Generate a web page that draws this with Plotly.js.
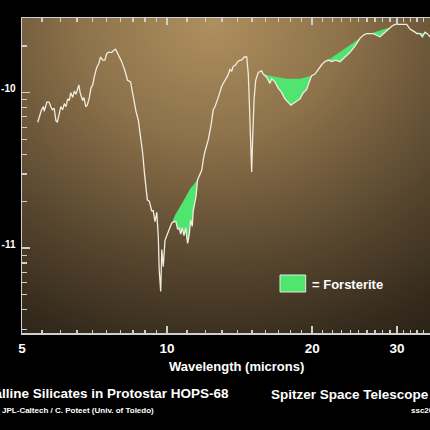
<!DOCTYPE html>
<html>
<head>
<meta charset="utf-8">
<script src="https://cdn.plot.ly/plotly-3.0.1.min.js"></script>
<style>html,body{margin:0;padding:0;background:#000;}#chart{width:430px;height:430px;}</style>
</head>
<body>
<div id="chart"></div>
<script>
// Spectrum of HOPS-68 (wavelength in microns, log10 flux)
const wavelength = [5.39,5.49,5.54,5.56,5.63,5.69,5.74,5.78,5.83,5.88,5.92,5.98,6.02,6.07,6.12,6.17,6.22,6.27,6.31,6.37,6.42,6.47,6.52,6.56,6.60,6.64,6.68,6.72,6.78,6.83,6.90,6.95,7.01,7.06,7.14,7.22,7.28,7.35,7.43,7.49,7.55,7.68,7.73,7.82,7.88,7.96,8.05,8.18,8.28,8.40,8.51,8.62,8.72,8.82,8.90,8.97,9.04,9.10,9.19,9.29,9.36,9.44,9.52,9.56,9.59,9.63,9.70,9.75,9.82,9.90,9.98,10.11,10.22,10.33,10.43,10.52,10.60,10.67,10.75,10.84,10.93,11.03,11.12,11.19,11.28,11.33,11.43,11.48,11.57,11.70,11.80,11.89,11.98,12.18,12.32,12.47,12.57,12.77,12.98,13.19,13.36,13.51,13.62,13.72,13.88,14.01,14.17,14.28,14.46,14.63,14.74,14.81,14.91,14.98,15.05,15.15,15.27,15.46,15.71,15.83,16.09,16.35,16.48,16.74,17.01,17.29,17.56,17.84,18.07,18.27,18.51,18.87,19.17,19.48,19.73,19.95,20.27,20.59,20.93,21.26,21.60,21.96,22.38,22.84,23.21,23.59,23.96,24.54,25.13,25.53,25.95,26.36,26.78,27.22,27.66,28.10,28.56,28.91,29.29,29.71,30.04,30.68,31.42,31.92,32.42,32.69,32.96,33.48,33.85,34.29,34.67,35.12,35.79];
const logFlux = [-10.19,-10.11,-10.09,-10.12,-10.06,-10.06,-10.09,-10.11,-10.10,-10.18,
-10.19,-10.13,-10.09,-10.11,-10.07,-10.09,-10.04,-10.05,-10.00,-10.03,
-9.99,-10.01,-9.98,-9.95,-10.00,-10.03,-10.05,-10.03,-10.09,-10.08,
-10.03,-9.97,-9.95,-9.90,-9.84,-9.81,-9.77,-9.79,-9.79,-9.75,
-9.74,-9.74,-9.73,-9.72,-9.74,-9.77,-9.80,-9.86,-9.92,-9.93,
-10.03,-10.12,-10.18,-10.28,-10.39,-10.51,-10.61,-10.69,-10.70,-10.76,
-10.76,-10.83,-10.77,-10.86,-10.93,-11.14,-11.28,-11.01,-11.12,-10.95,
-10.92,-10.88,-10.84,-10.83,-10.83,-10.88,-10.87,-10.91,-10.87,-10.92,
-10.87,-10.97,-10.91,-10.82,-10.86,-10.76,-10.69,-10.67,-10.56,-10.53,
-10.50,-10.43,-10.38,-10.30,-10.22,-10.11,-10.09,-10.03,-9.96,-9.92,
-9.89,-9.85,-9.86,-9.83,-9.82,-9.80,-9.79,-9.79,-9.77,-9.77,
-9.88,-10.05,-10.30,-10.51,-10.30,-10.05,-9.92,-9.87,-9.86,-9.88,
-9.90,-9.94,-9.91,-9.93,-9.97,-10.00,-10.04,-10.06,-10.08,-10.07,
-10.06,-10.04,-10.00,-9.98,-9.93,-9.89,-9.88,-9.85,-9.82,-9.80,
-9.79,-9.80,-9.79,-9.80,-9.78,-9.76,-9.74,-9.70,-9.65,-9.63,
-9.62,-9.62,-9.62,-9.63,-9.64,-9.62,-9.60,-9.58,-9.57,-9.56,
-9.56,-9.56,-9.56,-9.59,-9.60,-9.61,-9.62,-9.62,-9.64,-9.61,
-9.62,-9.64,-9.65];

// Continuum above each forsterite feature
const cont1X = [9.98, 10.38, 10.89, 11.16, 11.57];
const cont1Y = [-10.92, -10.79, -10.68, -10.62, -10.56];
const cont2X = [15.83, 16.61, 17.71, 18.87, 19.95];
const cont2Y = [-9.88, -9.895, -9.91, -9.91, -9.89];
const cont3X = [21.60, 25.13];
const cont3Y = [-9.79, -9.65];
const cont4X = [26.36, 28.91];
const cont4Y = [-9.62, -9.58];
const cont5X = [32.69, 34.67];
const cont5Y = [-9.61, -9.62];

// Tick labels
const xMajorTicks = [5, 10, 20, 30];
const xMajorText = ['5', '10', '20', '30'];
const xMinorTicks = [5.5,6,6.5,7,7.5,8,8.5,9,9.5,11,12,13,14,15,16,17,18,19,21,22,23,24,25,26,27,28,29,31,32,33,34,35];
const yMajorTicks = [-11, -10];
const yMajorText = ['-11', '-10'];

const GREEN = '#4fe56f';
const LINE = '#f1ece0';
const AX = '#cfcfcf';

const yMinorTicks = [];
[-12, -11, -10].forEach(n => { for (let k = 2; k <= 9; k++) yMinorTicks.push(n + Math.log10(k)); });

const conts = [[cont1X, cont1Y], [cont2X, cont2Y], [cont3X, cont3Y], [cont4X, cont4Y], [cont5X, cont5Y]];
const traces = [];
conts.forEach(([cx, cy]) => {
  const a = cx[0], b = cx[cx.length - 1];
  const sx = [], sy = [];
  wavelength.forEach((w, i) => { if (w >= a - 1e-9 && w <= b + 1e-9) { sx.push(w); sy.push(logFlux[i]); } });
  traces.push({x: cx, y: cy, mode: 'lines', line: {width: 0, color: GREEN}, hoverinfo: 'skip', showlegend: false});
  traces.push({x: sx, y: sy, mode: 'lines', line: {width: 0, color: GREEN}, fill: 'tonexty', fillcolor: GREEN, hoverinfo: 'skip', showlegend: false});
});
traces.push({x: wavelength, y: logFlux, mode: 'lines', line: {color: LINE, width: 1.3}, showlegend: false});

// Background glow of the plot area
const W = 408, H = 315;
const cv = document.createElement('canvas');
cv.width = W; cv.height = H;
const ctx = cv.getContext('2d');
ctx.fillStyle = '#261f15';
ctx.fillRect(0, 0, W, H);
ctx.save();
ctx.translate(190, 5);
ctx.scale(1.15, 1);
const g = ctx.createRadialGradient(0, 0, 0, 0, 0, 390);
g.addColorStop(0, 'rgb(174,143,94)');
g.addColorStop(0.3, 'rgb(140,113,74)');
g.addColorStop(0.6, 'rgb(90,72,48)');
g.addColorStop(0.85, 'rgb(52,42,28)');
g.addColorStop(1, 'rgb(36,29,20)');
ctx.fillStyle = g;
ctx.fillRect(-400, -100, 900, 600);
ctx.restore();
const bg = cv.toDataURL('image/png');

const FONT = 'Liberation Sans, Arial, sans-serif';
const px = v => (v - 22) / 408;
const py = v => (333 - v) / 315;

const layout = {
  width: 430, height: 430,
  margin: {l: 22, r: 0, t: 18, b: 97, pad: 0},
  paper_bgcolor: '#000000',
  plot_bgcolor: 'rgba(0,0,0,0)',
  showlegend: false,
  font: {family: FONT, color: '#ffffff'},
  images: [{source: bg, xref: 'paper', yref: 'paper', x: 0, y: 1, sizex: 1, sizey: 1,
            sizing: 'stretch', layer: 'below', xanchor: 'left', yanchor: 'top'}],
  xaxis: {
    type: 'log', range: [Math.log10(5), Math.log10(35.12)],
    tickmode: 'array', tickvals: xMajorTicks, ticktext: xMajorText,
    ticks: 'inside', ticklen: 7, tickwidth: 1.5, tickcolor: AX,
    showline: true, linecolor: AX, linewidth: 1.5, mirror: 'ticks',
    showgrid: false, zeroline: false,
    tickfont: {family: FONT, size: 13.5, color: '#ffffff', weight: 'bold'},
    ticklabelstandoff: 2,
    minor: {tickmode: 'array', tickvals: xMinorTicks, ticks: 'inside', ticklen: 3.5, tickwidth: 1.2, tickcolor: AX, showgrid: false}
  },
  yaxis: {
    range: [-11.547, -9.519],
    tickmode: 'array', tickvals: yMajorTicks, ticktext: yMajorText,
    ticks: 'inside', ticklen: 8, tickwidth: 1.5, tickcolor: AX,
    showline: true, linecolor: AX, linewidth: 1.5, mirror: false,
    showgrid: false, zeroline: false,
    tickfont: {family: FONT, size: 10, color: '#ffffff', weight: 'bold'},
    ticklabelstandoff: 3, ticklabelshift: -4,
    minor: {tickmode: 'array', tickvals: yMinorTicks, ticks: 'inside', ticklen: 4.5, tickwidth: 1.2, tickcolor: AX, showgrid: false}
  },
  shapes: [
    {type: 'rect', xref: 'paper', yref: 'paper', x0: px(280), x1: px(305.7), y0: py(292), y1: py(275),
     fillcolor: GREEN, line: {color: '#d9eed9', width: 1}}
  ],
  annotations: [
    {text: '= Forsterite', xref: 'paper', yref: 'paper', x: px(310), y: py(284), xanchor: 'left', yanchor: 'middle', showarrow: false,
     font: {family: FONT, size: 13, color: '#ffffff', weight: 'bold'}},
    {text: 'Wavelength (microns)', xref: 'paper', yref: 'paper', x: px(236), y: py(366.5), xanchor: 'center', yanchor: 'middle', showarrow: false,
     font: {family: FONT, size: 13, color: '#ffffff', weight: 'bold'}},
    {text: 'Crystalline Silicates in Protostar HOPS-68', xref: 'paper', yref: 'paper', x: px(231), y: py(393), xanchor: 'right', yanchor: 'middle', showarrow: false,
     font: {family: FONT, size: 13.5, color: '#ffffff', weight: 'bold'}},
    {text: 'NASA / JPL-Caltech / C. Poteet (Univ. of Toledo)', xref: 'paper', yref: 'paper', x: px(156), y: py(410), xanchor: 'right', yanchor: 'middle', showarrow: false,
     font: {family: FONT, size: 8, color: '#ffffff', weight: 'bold'}},
    {text: 'Spitzer Space Telescope', xref: 'paper', yref: 'paper', x: px(269), y: py(394), xanchor: 'left', yanchor: 'middle', showarrow: false,
     font: {family: FONT, size: 13.5, color: '#ffffff', weight: 'bold'}},
    {text: 'ssc2011-05a', xref: 'paper', yref: 'paper', x: px(409), y: py(410), xanchor: 'left', yanchor: 'middle', showarrow: false,
     font: {family: FONT, size: 8, color: '#ffffff', weight: 'bold'}}
  ]
};

Plotly.newPlot('chart', traces, layout, {staticPlot: true, displayModeBar: false});
</script>
</body>
</html>
